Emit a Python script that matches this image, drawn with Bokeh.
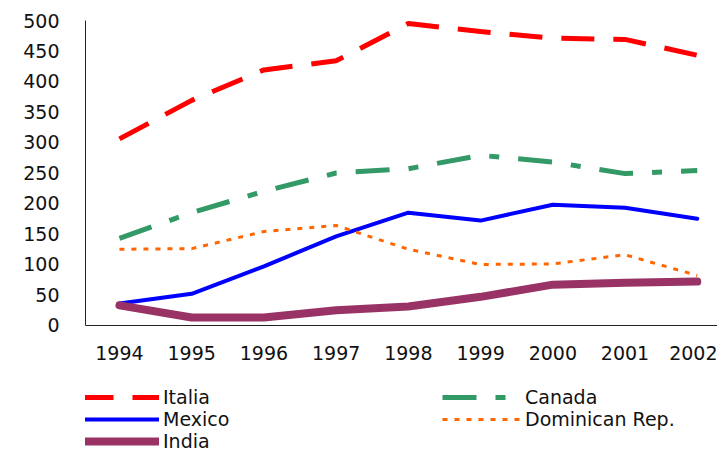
from bokeh.plotting import figure
from bokeh.models import Legend, LegendItem, FixedTicker, Range1d
from bokeh.embed import file_html
from bokeh.resources import INLINE

years = [1994, 1995, 1996, 1997, 1998, 1999, 2000, 2001, 2002]
italia = [306, 369, 419, 434, 495, 482, 471, 469, 443]
canada = [143, 185, 220, 250, 257, 279, 268, 249, 254]
mexico = [36, 52, 97, 146, 185, 172, 198, 193, 175]
dominican = [125, 126, 154, 164, 125, 100, 101, 116, 82]
india = [33, 13, 13, 25, 31, 47, 67, 70, 72]
y_ticks = [0, 50, 100, 150, 200, 250, 300, 350, 400, 450, 500]

FONT = "DejaVu Sans"
FS = "19px"

# frame spans page y 20..451; value 0 sits at y=325 (0.61 px per unit)
p = figure(width=717, height=451, output_backend="svg", toolbar_location=None,
           x_range=Range1d(1993.53, 2002.28), y_range=Range1d(-206.56, 500),
           min_border_left=85, min_border_top=20, min_border_right=0,
           min_border_bottom=0)
p.outline_line_color = None
p.xgrid.grid_line_color = None
p.ygrid.grid_line_color = None
p.background_fill_color = "white"
p.border_fill_color = "white"

for ax in (p.xaxis[0], p.yaxis[0]):
    ax.major_tick_line_color = None
    ax.minor_tick_line_color = None
    ax.major_tick_out = 0
    ax.major_tick_in = 0
    ax.axis_line_color = "#222222"
    ax.axis_line_width = 1
    ax.major_label_text_font = FONT
    ax.major_label_text_font_size = FS
    ax.major_label_text_color = "#111111"

p.xaxis.ticker = FixedTicker(ticks=years)
p.xaxis.fixed_location = 0
p.yaxis.ticker = FixedTicker(ticks=y_ticks)
p.yaxis.bounds = (0, 500)
p.yaxis.major_label_standoff = 26
p.xaxis.major_label_standoff = 21

r_it = p.line(years, italia, line_color="#FF0000", line_width=5, line_dash="33 19")
r_ca = p.line(years, canada, line_color="#339966", line_width=5, line_dash="34 19 10 19")
r_mx = p.line(years, mexico, line_color="#0000FF", line_width=4, line_cap="round", line_join="round")
r_do = p.line(years, dominican, line_color="#FF6600", line_width=3, line_dash="5 7")
r_in = p.line(years, india, line_color="#993366", line_width=8, line_cap="round", line_join="round")

def make_legend(items, loc):
    lg = Legend(items=items, location=loc, orientation="vertical")
    lg.background_fill_alpha = 0
    lg.border_line_color = None
    lg.padding = 0
    lg.margin = 0
    lg.spacing = 0
    lg.glyph_width = 79
    lg.glyph_height = 22
    lg.label_height = 22
    lg.label_standoff = 4
    lg.label_text_font = FONT
    lg.label_text_font_size = FS
    lg.label_text_color = "#111111"
    return lg

leg1 = make_legend([LegendItem(label="Italia", renderers=[r_it]),
                    LegendItem(label="Mexico", renderers=[r_mx]),
                    LegendItem(label="India", renderers=[r_in])], (-5, -1))
leg2 = make_legend([LegendItem(label="Canada", renderers=[r_ca]),
                    LegendItem(label="Dominican Rep.", renderers=[r_do])], (357, 21))
p.add_layout(leg1, "center")
p.add_layout(leg2, "center")

open("out.html", "w").write(file_html(p, INLINE))
